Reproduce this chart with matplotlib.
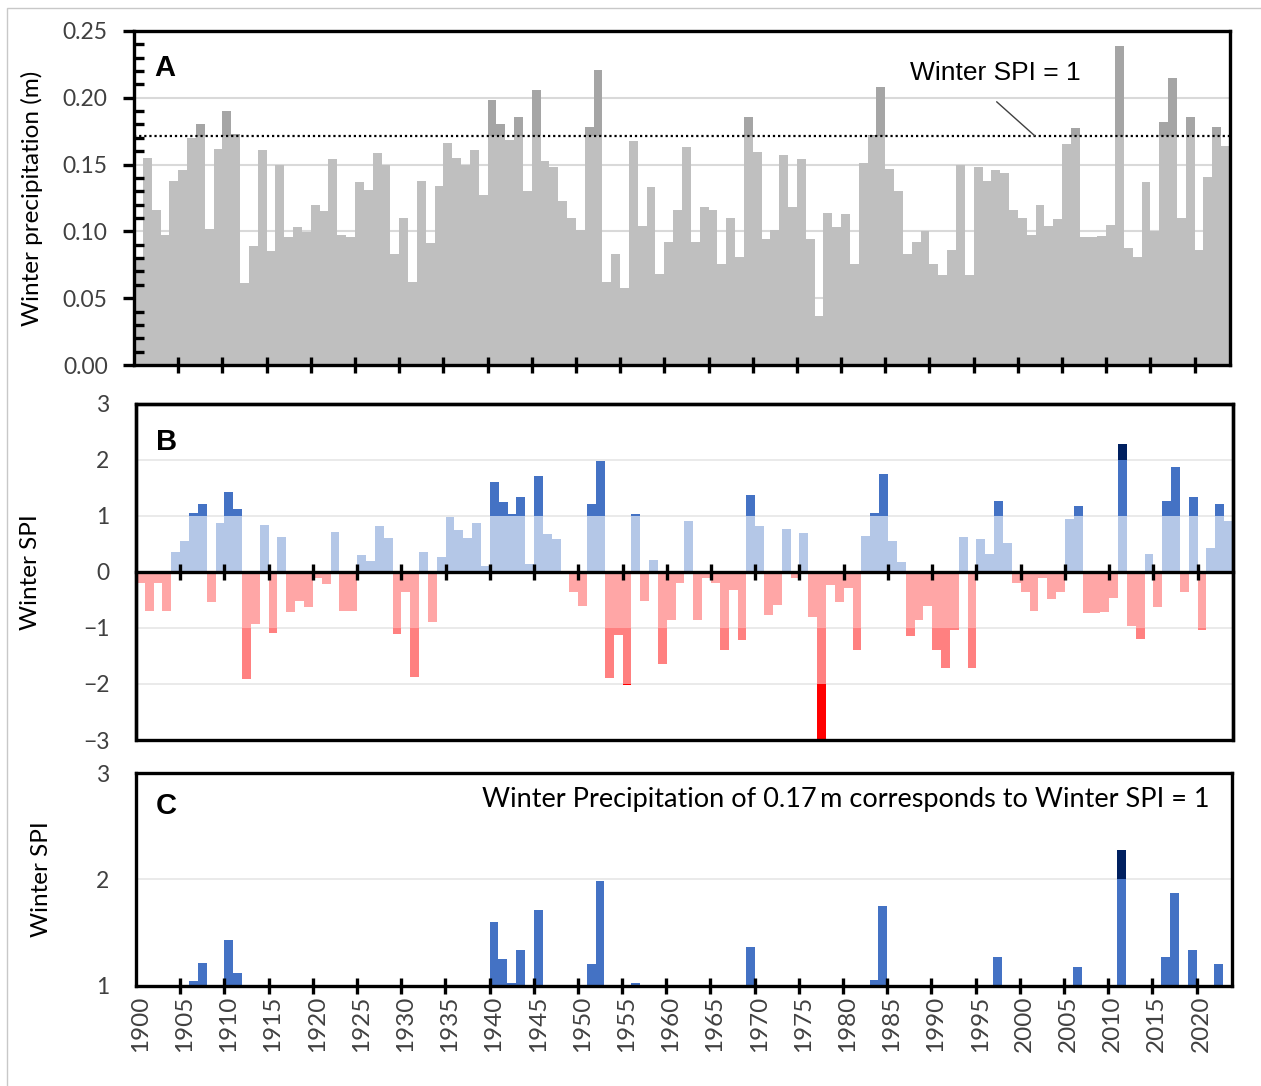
import numpy as np
import matplotlib
matplotlib.use("Agg")
import matplotlib.pyplot as plt
from matplotlib.patches import Rectangle
from matplotlib.ticker import FixedLocator, MultipleLocator, NullFormatter


plt.rcParams['font.family'] = ['Lato', 'DejaVu Sans']

years = np.arange(1900, 2024)

# winter precipitation (m)
precip = [0.081, 0.155, 0.116, 0.0975, 0.138, 0.146, 0.170, 0.180, 0.102, 0.162,
          0.190, 0.173, 0.061, 0.089, 0.161, 0.085, 0.150, 0.096, 0.103, 0.0995,
          0.1195, 0.115, 0.154, 0.0975, 0.096, 0.137, 0.131, 0.159, 0.150, 0.083,
          0.110, 0.062, 0.138, 0.091, 0.134, 0.166, 0.155, 0.150, 0.161, 0.127,
          0.198, 0.180, 0.1686, 0.1855, 0.130, 0.206, 0.153, 0.148, 0.1225, 0.110,
          0.101, 0.178, 0.221, 0.062, 0.083, 0.058, 0.168, 0.104, 0.133, 0.068,
          0.092, 0.116, 0.163, 0.092, 0.1185, 0.116, 0.0756, 0.110, 0.081, 0.1855,
          0.1596, 0.0945, 0.101, 0.157, 0.1185, 0.154, 0.094, 0.037, 0.114, 0.103,
          0.113, 0.0756, 0.151, 0.172, 0.2077, 0.147, 0.130, 0.083, 0.092, 0.100,
          0.0756, 0.067, 0.086, 0.150, 0.067, 0.148, 0.138, 0.146, 0.144, 0.116,
          0.110, 0.0975, 0.1195, 0.104, 0.109, 0.1656, 0.177, 0.0955, 0.0955, 0.0965,
          0.105, 0.2384, 0.0878, 0.081, 0.137, 0.100, 0.182, 0.2145, 0.110, 0.1855,
          0.086, 0.1407, 0.178, 0.1636]

# winter SPI
spi = [-0.19, -0.70, -0.19, -0.70, 0.36, 0.55, 1.045, 1.22, -0.54, 0.87,
       1.43, 1.12, -1.91, -0.93, 0.84, -1.09, 0.63, -0.72, -0.51, -0.63,
       -0.10, -0.21, 0.72, -0.70, -0.70, 0.31, 0.20, 0.82, 0.61, -1.11,
       -0.36, -1.87, 0.36, -0.90, 0.26, 0.98, 0.75, 0.61, 0.87, 0.11,
       1.60, 1.25, 1.03, 1.34, 0.15, 1.71, 0.67, 0.585, -0.02, -0.36,
       -0.61, 1.21, 1.99, -1.89, -1.13, -2.02, 1.03, -0.51, 0.22, -1.64,
       -0.86, -0.19, 0.91, -0.86, -0.11, -0.19, -1.385, -0.33, -1.21, 1.37,
       0.82, -0.76, -0.585, 0.77, -0.10, 0.70, -0.81, -3.05, -0.24, -0.54,
       -0.29, -1.385, 0.65, 1.06, 1.755, 0.56, 0.17, -1.15, -0.86, -0.61,
       -1.385, -1.71, -1.04, 0.63, -1.71, 0.585, 0.33, 1.27, 0.51, -0.19,
       -0.36, -0.70, -0.10, -0.49, -0.36, 0.955, 1.18, -0.74, -0.74, -0.72,
       -0.47, 2.28, -0.97, -1.20, 0.33, -0.63, 1.27, 1.87, -0.36, 1.34,
       -1.04, 0.42, 1.21, 0.91]

spi_one_precip = 0.1713   # precipitation equal to SPI = 1

label_years = np.arange(1900, 2021, 5)
boundary_ticks = np.arange(1904.5, 2020, 5)

precip = np.array(precip)
spi = np.array(spi)

GREY = "#BFBFBF"
DARK_GREY = "#A5A5A5"
BLUE_LIGHT = "#B4C7E7"
BLUE = "#4472C4"
NAVY = "#002060"
RED_LIGHT = "#FFA6A6"
RED = "#FF8080"
RED_DARK = "#FF0000"

TICK_SIZE = 16.5
LABEL_SIZE = 17.5
SPINE_W = 2.4


def style_box(ax):
    for spine in ax.spines.values():
        spine.set_linewidth(SPINE_W)
    ax.set_xlim(1899.5, 2023.5)
    ax.xaxis.set_major_locator(FixedLocator(boundary_ticks))
    ax.xaxis.set_major_formatter(NullFormatter())
    ax.tick_params(axis='x', which='major', direction='inout',
                   length=12, width=2.4)
    ax.tick_params(axis='y', labelsize=TICK_SIZE, labelcolor='#404040')


def add_grid(ax, color, width):
    low, high = ax.get_ylim()
    for value in ax.get_yticks():
        if low < value < high:
            ax.axhline(value, color=color, linewidth=width, zorder=0.5)


def panel_letter(ax, letter, y):
    ax.text(0.028, y, letter, transform=ax.transAxes, fontsize=21,
            fontweight='bold', ha='center', va='center',
            family=['Liberation Sans', 'DejaVu Sans'])


fig = plt.figure(figsize=(12.61, 10.86), dpi=100)
fig.patches.append(Rectangle((7/1261, -0.05), 1.2, 1.05 - 8/1086,
                             transform=fig.transFigure, fill=False,
                             edgecolor="#C8C8C8", linewidth=1))

# Panel A

ax_a = fig.add_axes([0.1063, 0.6639, 0.8691, 0.3076])
light = np.minimum(precip, spi_one_precip)
dark = np.clip(precip - spi_one_precip, 0, None)
ax_a.bar(years, light, width=1, color=GREY, linewidth=0)
ax_a.bar(years, dark, bottom=light, width=1, color=DARK_GREY, linewidth=0)
ax_a.axhline(spi_one_precip, color='k', linestyle=(0, (1, 1.3)), linewidth=1.6)
ax_a.set_ylim(0, 0.25)
ax_a.yaxis.set_major_locator(MultipleLocator(0.05))
ax_a.yaxis.set_minor_locator(MultipleLocator(0.01))
ax_a.yaxis.set_major_formatter(plt.FormatStrFormatter('%.2f'))
add_grid(ax_a, '#D9D9D9', 1.5)
style_box(ax_a)
ax_a.tick_params(axis='y', which='major', direction='out', length=8,
                 width=2.4, pad=11, color='k')
ax_a.tick_params(axis='y', which='minor', direction='in', length=7, width=2.4)
ax_a.set_ylabel('Winter precipitation (m)', fontsize=LABEL_SIZE, labelpad=14)
panel_letter(ax_a, 'A', 0.889)
ax_a.text(1997.0, 0.2185, 'Winter SPI = 1', fontsize=19, ha='center',
          va='center', family=['Liberation Sans', 'DejaVu Sans'])
ax_a.annotate('', xy=(2001.4, 0.1716), xytext=(1997.1, 0.197),
              arrowprops=dict(arrowstyle='-', color='#404040', lw=1,
                              shrinkA=0, shrinkB=0))

# Panel B

ax_b = fig.add_axes([0.1078, 0.3186, 0.8700, 0.3094])
pos = np.clip(spi, 0, None)
neg = np.clip(spi, None, 0)
ax_b.bar(years, np.minimum(pos, 1), width=1, color=BLUE_LIGHT, linewidth=0)
ax_b.bar(years, np.clip(pos, 1, 2) - 1, bottom=1, width=1, color=BLUE,
         linewidth=0)
ax_b.bar(years, np.clip(pos, 2, None) - 2, bottom=2, width=1, color=NAVY,
         linewidth=0)
ax_b.bar(years, np.maximum(neg, -1), width=1, color=RED_LIGHT, linewidth=0)
ax_b.bar(years, np.clip(neg, -2, -1) + 1, bottom=-1, width=1, color=RED,
         linewidth=0)
ax_b.bar(years, np.clip(neg, None, -2) + 2, bottom=-2, width=1,
         color=RED_DARK, linewidth=0)
ax_b.set_ylim(-3, 3)
ax_b.set_yticks(np.arange(-3, 4, 1))
add_grid(ax_b, '#E6E6E6', 1.2)
style_box(ax_b)
ax_b.spines['bottom'].set_position(('data', 0))
ax_b.add_patch(Rectangle((0, 0), 1, 1, transform=ax_b.transAxes, fill=False,
                         edgecolor='k', linewidth=SPINE_W, clip_on=False,
                         zorder=5))
ax_b.tick_params(axis='y', length=0, pad=19)
ax_b.set_ylabel('Winter SPI', fontsize=LABEL_SIZE, labelpad=30)
panel_letter(ax_b, 'B', 0.887)

# Panel C

ax_c = fig.add_axes([0.1078, 0.0921, 0.8692, 0.1961])
wet = np.where(spi > 1, spi, 1)
ax_c.bar(years, np.minimum(wet, 2) - 1, bottom=1, width=1, color=BLUE,
         linewidth=0)
ax_c.bar(years, np.clip(wet, 2, None) - 2, bottom=2, width=1, color=NAVY,
         linewidth=0)
ax_c.set_ylim(1, 3)
ax_c.set_yticks([1, 2, 3])
add_grid(ax_c, '#E6E6E6', 1.2)
style_box(ax_c)
ax_c.xaxis.set_minor_locator(FixedLocator(label_years))
ax_c.xaxis.set_minor_formatter(plt.FixedFormatter([str(y) for y in label_years]))
ax_c.tick_params(axis='x', which='minor', length=0, pad=7,
                 labelsize=17.5, labelrotation=90, labelcolor='#404040')
ax_c.tick_params(axis='y', length=0, pad=19)
ax_c.set_ylabel('Winter SPI', fontsize=LABEL_SIZE, labelpad=32)
panel_letter(ax_c, 'C', 0.845)
ax_c.text(2021.0, 2.75,
          'Winter Precipitation of 0.17\u2009m corresponds to Winter SPI = 1',
          fontsize=19.5, ha='right', va='center')

fig.savefig('out.png', dpi=100)
